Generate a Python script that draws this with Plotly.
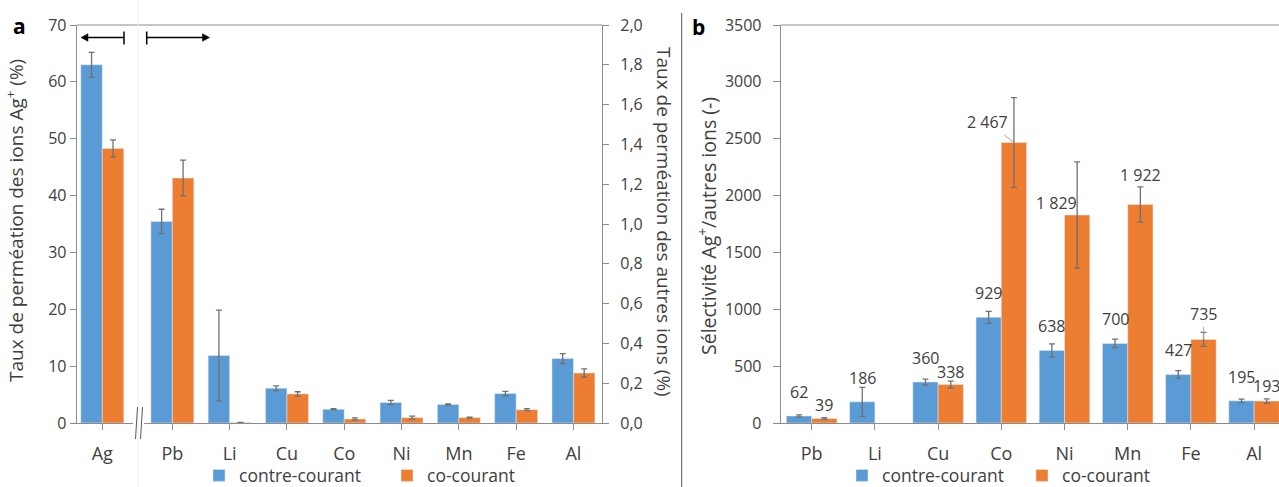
import plotly.graph_objects as go

W, H = 1279, 487

# ---------------- data ----------------
ag_cat = ["Ag"]
ag_contre = [63.0]
ag_contre_err = [2.2]
ag_co = [48.3]
ag_co_err = [1.5]

ions = ["Pb", "Li", "Cu", "Co", "Ni", "Mn", "Fe", "Al"]
perm_contre = [1.013, 0.339, 0.175, 0.069, 0.103, 0.093, 0.148, 0.324]
perm_contre_err = [0.061, 0.228, 0.012, 0.003, 0.011, 0.003, 0.011, 0.025]
perm_co = [1.231, 0.003, 0.146, 0.020, 0.027, 0.027, 0.067, 0.251]
perm_co_err = [0.090, 0.0, 0.011, 0.006, 0.008, 0.002, 0.005, 0.021]

sel_contre = [62, 186, 360, 929, 638, 700, 427, 195]
sel_contre_err = [10, 127, 25, 53, 58, 37, 33, 15]
sel_co = [39, None, 338, 2467, 1829, 1922, 735, 193]
sel_co_err = [8, None, 30, 395, 467, 155, 62, 20]

series_names = ["contre-courant", "co-courant"]
left_ticks = [0, 10, 20, 30, 40, 50, 60, 70]
right_ticks = [0.0, 0.2, 0.4, 0.6, 0.8, 1.0, 1.2, 1.4, 1.6, 1.8, 2.0]
b_ticks = [0, 500, 1000, 1500, 2000, 2500, 3000, 3500]

# label placement styles (pixels above bar top, horizontal shift)
lab_dy_contre = [24, 24, 24, 24, 24, 24, 24, 24]
lab_dy_co = [14, 0, 13, 0, 12, 29, 0, 15]
lab_dx_co = [0, 0, 0, 0, -21, 0, 0, 0]
lab_leader_co = [None, None, None, (-26, -20), None, None, (0, -25), None]

# ---------------- style ----------------
BLUE = "#5B9BD5"
ORANGE = "#ED7D31"
ERR = "#707070"
AX = "#8c8c8c"
TXT = "#404040"
FONT = "Open Sans"

PLOT_TOP, PLOT_BOT = 25, 423
PH = PLOT_BOT - PLOT_TOP


def px(x):
    return x / W


def py(y):
    return (PLOT_BOT - y) / PH


BW_A = 0.375
BW_B = 0.40

fig = go.Figure()


def err(arr):
    return dict(type="data", array=arr, color=ERR, thickness=1.3, width=3, visible=True)


# Panel a - Ag (left axis)
fig.add_trace(go.Bar(x=ag_cat, y=ag_contre, xaxis="x", yaxis="y", marker_color=BLUE,
                     width=BW_A, offset=-BW_A, error_y=err(ag_contre_err), showlegend=False,
                     name=series_names[0]))
fig.add_trace(go.Bar(x=ag_cat, y=ag_co, xaxis="x", yaxis="y", marker_color=ORANGE,
                     width=BW_A, offset=0, error_y=err(ag_co_err), showlegend=False,
                     name=series_names[1]))
# Panel a - other ions (right axis)
fig.add_trace(go.Bar(x=ions, y=perm_contre, xaxis="x2", yaxis="y2", marker_color=BLUE,
                     width=BW_A, offset=-BW_A, error_y=err(perm_contre_err),
                     name=series_names[0], legend="legend"))
fig.add_trace(go.Bar(x=ions, y=perm_co, xaxis="x2", yaxis="y2", marker_color=ORANGE,
                     width=BW_A, offset=0, error_y=err(perm_co_err),
                     name=series_names[1], legend="legend"))
# Panel b
fig.add_trace(go.Bar(x=ions, y=sel_contre, xaxis="x3", yaxis="y3", marker_color=BLUE,
                     width=BW_B, offset=-BW_B, error_y=err(sel_contre_err),
                     name=series_names[0], legend="legend2"))
fig.add_trace(go.Bar(x=ions, y=sel_co, xaxis="x3", yaxis="y3", marker_color=ORANGE,
                     width=BW_B, offset=0, error_y=err(sel_co_err),
                     name=series_names[1], legend="legend2"))

axis_common = dict(showline=True, linecolor=AX, linewidth=1, ticks="outside", tickcolor=AX,
                   showgrid=False, zeroline=False, tickfont=dict(family=FONT, size=16, color=TXT))
xcat = dict(axis_common, type="category", ticklen=6, tickfont=dict(family=FONT, size=18, color=TXT),
            ticklabelstandoff=8)

# Ag axis: same px-per-category as x2 (57.3 px)
xa0, xa1 = 76.7, 133.0
unit_a = 57.3
ag_center = 102.3
ag_lo = -(ag_center - xa0) / unit_a
ag_hi = ag_lo + (xa1 - xa0) / unit_a

x2a0 = 143.7
x2a1 = x2a0 + 8 * unit_a

x3a0 = 780.7
unit_b = 63.2
b_lo = -(811.7 - x3a0) / unit_b
b_hi = b_lo + (W - x3a0) / unit_b

leg_font = dict(family=FONT, size=17.5, color=TXT)
fig.update_layout(
    width=W, height=H,
    margin=dict(l=0, r=0, t=PLOT_TOP, b=H - PLOT_BOT, autoexpand=False),
    paper_bgcolor="white", plot_bgcolor="white",
    separators=", ",
    font=dict(family=FONT, color=TXT),
    xaxis=dict(xcat, domain=[px(xa0), px(xa1)], range=[ag_lo, ag_hi], anchor="y"),
    yaxis=dict(axis_common, domain=[0, 1], range=[0, 70], tickvals=left_ticks, ticklen=6,
               anchor="x"),
    xaxis2=dict(xcat, domain=[px(x2a0), px(x2a1)], range=[-0.5, 7.5], anchor="y2"),
    yaxis2=dict(axis_common, domain=[0, 1], range=[0, 2], tickvals=right_ticks, tickformat=".1f",
                side="right", anchor="x2", ticklen=6, ticklabelstandoff=8),
    xaxis3=dict(xcat, domain=[px(x3a0), 1.0], range=[b_lo, b_hi], anchor="y3"),
    yaxis3=dict(axis_common, domain=[0, 1], range=[0, 3500], tickvals=b_ticks, anchor="x3",
                ticklen=7, ticklabelstandoff=8),
    legend=dict(orientation="h", x=px(199), xanchor="left", y=py(475.5), yanchor="middle",
                font=leg_font, bgcolor="rgba(0,0,0,0)", entrywidth=143, traceorder="normal"),
    legend2=dict(orientation="h", x=px(842), xanchor="left", y=py(475.5), yanchor="middle",
                 font=leg_font, bgcolor="rgba(0,0,0,0)", entrywidth=135, traceorder="normal"),
)

shapes = []
ann = []


def pline(x0, y0, x1, y1, color=AX, width=1):
    shapes.append(dict(type="line", xref="paper", yref="paper", x0=px(x0), y0=py(y0),
                       x1=px(x1), y1=py(y1), line=dict(color=color, width=width)))


def ppath(points, color):
    d = "M " + " L ".join(f"{px(x):.5f},{py(y):.5f}" for x, y in points) + " Z"
    shapes.append(dict(type="path", xref="paper", yref="paper", path=d, fillcolor=color,
                       line=dict(color=color, width=0.5)))


# top borders
pline(xa0, PLOT_TOP, x2a1, PLOT_TOP)
pline(x3a0, PLOT_TOP, W, PLOT_TOP)
# faint guide & separator
pline(138, 0, 138, H, color="#efefef")
pline(681.7, 13, 681.7, H, color="#595959")
# axis break marks
pline(135.5, 439, 137.5, 407, color="#595959")
pline(140.5, 439, 142.5, 407, color="#595959")
# arrows: end bars, shafts and heads
AY = 37.5
pline(124, 31.5, 124, 44.5, color="black", width=1.5)
pline(146.7, 31.5, 146.7, 44.5, color="black", width=1.5)
pline(86, AY, 124, AY, color="black", width=1.5)
pline(146.7, AY, 204, AY, color="black", width=1.5)
ppath([(81, AY), (88, AY - 3.8), (88, AY + 3.8)], "black")
ppath([(209.5, AY), (202.5, AY - 3.8), (202.5, AY + 3.8)], "black")

# panel letters
ann.append(dict(xref="paper", yref="paper", x=px(19), y=py(26), xanchor="center", yanchor="middle",
                text="<b>a</b>", showarrow=False, font=dict(family=FONT, size=21, color="black")))
ann.append(dict(xref="paper", yref="paper", x=px(698), y=py(27), xanchor="center", yanchor="middle",
                text="<b>b</b>", showarrow=False, font=dict(family=FONT, size=21, color="black")))

# axis titles
title_font = dict(family=FONT, size=19, color=TXT)
ann.append(dict(xref="paper", yref="paper", x=px(15), y=py(221), textangle=-90, showarrow=False,
                xanchor="center", yanchor="middle",
                text="Taux de perméation des ions Ag<sup>+</sup> (%)", font=title_font))
ann.append(dict(xref="paper", yref="paper", x=px(664), y=py(222), textangle=90, showarrow=False,
                xanchor="center", yanchor="middle",
                text="Taux de perméation des autres ions (%)", font=title_font))
ann.append(dict(xref="paper", yref="paper", x=px(707), y=py(226), textangle=-90, showarrow=False,
                xanchor="center", yanchor="middle",
                text="Sélectivité Ag<sup>+</sup>/autres ions (-)", font=dict(title_font, size=19.5)))


def fmt(v):
    return f"{v:,}".replace(",", " ")


lab_font = dict(family=FONT, size=16, color=TXT)
for i, v in enumerate(sel_contre):
    ann.append(dict(xref="x3", yref="y3", x=i - BW_B / 2, y=v, text=fmt(v), showarrow=False,
                    xanchor="center", yanchor="middle", yshift=lab_dy_contre[i], font=lab_font))
for i, v in enumerate(sel_co):
    if v is None:
        continue
    lead = lab_leader_co[i]
    if lead is not None:
        ann.append(dict(xref="x3", yref="y3", x=i + BW_B / 2, y=v, text=fmt(v), showarrow=True,
                        ax=lead[0], ay=lead[1], arrowhead=0, arrowwidth=1, arrowcolor="#a6a6a6",
                        standoff=0, font=lab_font))
    else:
        ann.append(dict(xref="x3", yref="y3", x=i + BW_B / 2, y=v, text=fmt(v), showarrow=False,
                        xanchor="center", yanchor="middle",
                        yshift=lab_dy_co[i], xshift=lab_dx_co[i], font=lab_font))

fig.update_layout(shapes=shapes, annotations=ann)

fig.write_html("out.html", config={"displayModeBar": False},
               post_script="document.body.style.margin='0px';")
